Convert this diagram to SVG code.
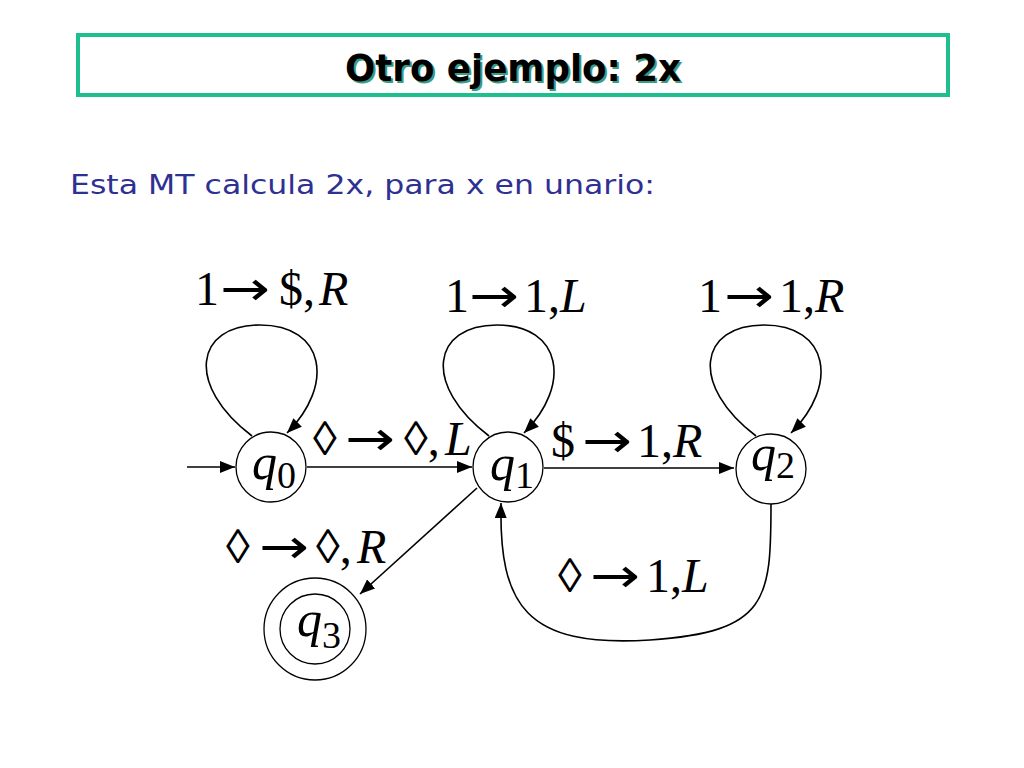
<svg xmlns="http://www.w3.org/2000/svg" width="1024" height="768" viewBox="0 0 1024 768">
<style>
.node{fill:#fff;stroke:#000;stroke-width:1.3}
.edge{fill:none;stroke:#000;stroke-width:1.6}
.lbl{font-family:"Liberation Serif","Times New Roman",serif;font-size:48px;fill:#000}
.ar{font-family:"DejaVu Sans","Liberation Sans",sans-serif;font-size:48px}
.st{font-family:"Liberation Serif","Times New Roman",serif;font-size:50px;fill:#000}
.it{font-style:italic}
.title{font-family:"DejaVu Sans","Liberation Sans",sans-serif;font-weight:bold;font-size:38px}
.sub{font-family:"DejaVu Sans","Liberation Sans",sans-serif;font-size:26px;fill:#2E3192}
</style>
<defs>
<marker id="arr" markerUnits="userSpaceOnUse" markerWidth="16" markerHeight="12" refX="15" refY="6" orient="auto">
<path d="M0,0 L15,6 L0,12 z" fill="#000"/>
</marker>
</defs>
<rect width="1024" height="768" fill="#fff"/>
<g id="title">
<rect x="78" y="35" width="870" height="60" fill="#fff" stroke="#1FBE8E" stroke-width="4"/>
<text class="title" x="515" y="83" text-anchor="middle" fill="#3A9C84" textLength="336" lengthAdjust="spacingAndGlyphs">Otro ejemplo: 2x</text>
<text class="title" x="513" y="81" text-anchor="middle" fill="#000" textLength="336" lengthAdjust="spacingAndGlyphs">Otro ejemplo: 2x</text>
</g>
<text class="sub" x="70" y="194" textLength="585" lengthAdjust="spacingAndGlyphs">Esta MT calcula 2x, para x en unario:</text>
<g id="connectors">
<path class="edge" d="M187,467 L235,467" marker-end="url(#arr)"/>
<path class="edge" d="M307,467 L472,467" marker-end="url(#arr)"/>
<path class="edge" d="M544,468 L734,468" marker-end="url(#arr)"/>
<path class="edge" d="M477,488 L360,594" marker-end="url(#arr)"/>
<path class="edge" d="M771,504 C771,600 768,632 650,640 C525,648 499,605 501,503" marker-end="url(#arr)"/>
<path class="edge" d="M252,436 C185,385 195,325 260,325 C325,325 335,385 287,433" marker-end="url(#arr)"/>
<path class="edge" d="M489,436 C422,385 432,325 497,325 C562,325 572,385 524,433" marker-end="url(#arr)"/>
<path class="edge" d="M756,436 C689,385 699,325 764,325 C829,325 839,385 791,433" marker-end="url(#arr)"/>
</g>
<g id="labels">
<text class="lbl" y="305"><tspan x="195">1</tspan><tspan class="ar" x="220" textLength="50" lengthAdjust="spacingAndGlyphs">→</tspan><tspan x="279">$,</tspan><tspan class="it" x="319">R</tspan></text>
<text class="lbl" y="312"><tspan x="445">1</tspan><tspan class="ar" x="469" textLength="50" lengthAdjust="spacingAndGlyphs">→</tspan><tspan x="524">1,</tspan><tspan class="it" x="560">L</tspan></text>
<text class="lbl" y="312"><tspan x="698">1</tspan><tspan class="ar" x="724" textLength="50" lengthAdjust="spacingAndGlyphs">→</tspan><tspan x="779">1,</tspan><tspan class="it" x="815">R</tspan></text>
<text class="lbl" y="455"><tspan x="313">◊</tspan><tspan class="ar" x="345" textLength="50" lengthAdjust="spacingAndGlyphs">→</tspan><tspan x="404">◊,</tspan><tspan class="it" x="445">L</tspan></text>
<text class="lbl" y="457"><tspan x="551">$</tspan><tspan class="ar" x="582" textLength="50" lengthAdjust="spacingAndGlyphs">→</tspan><tspan x="637">1,</tspan><tspan class="it" x="673">R</tspan></text>
<text class="lbl" y="563"><tspan x="226">◊</tspan><tspan class="ar" x="259" textLength="50" lengthAdjust="spacingAndGlyphs">→</tspan><tspan x="316">◊,</tspan><tspan class="it" x="357">R</tspan></text>
<text class="lbl" y="592"><tspan x="558">◊</tspan><tspan class="ar" x="590" textLength="50" lengthAdjust="spacingAndGlyphs">→</tspan><tspan x="646">1,</tspan><tspan class="it" x="682">L</tspan></text>
</g>
<g id="q0">
<circle class="node" cx="271" cy="467" r="35"/>
<text class="st" x="252" y="479"><tspan class="it">q</tspan><tspan font-size="38" dy="9">0</tspan></text>
</g>
<g id="q1">
<circle class="node" cx="508" cy="467" r="35"/>
<text class="st" x="490" y="480"><tspan class="it">q</tspan><tspan font-size="38" dy="8">1</tspan></text>
</g>
<g id="q2">
<circle class="node" cx="771" cy="469" r="35"/>
<text class="st" x="751" y="470"><tspan class="it">q</tspan><tspan font-size="38" dy="8">2</tspan></text>
</g>
<g id="q3">
<circle class="node" cx="315" cy="629" r="51"/>
<circle class="node" cx="315" cy="629" r="35"/>
<text class="st" x="297" y="636"><tspan class="it">q</tspan><tspan font-size="38" dy="12">3</tspan></text>
</g>
</svg>
